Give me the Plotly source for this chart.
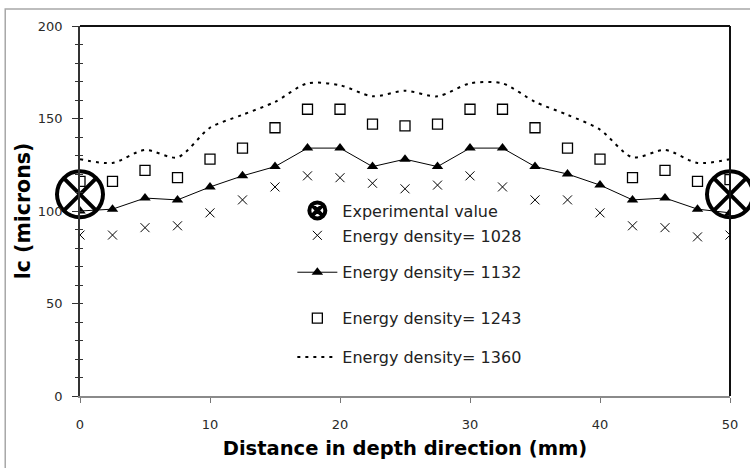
import plotly.graph_objects as go

# ---- data ----
distance = [0, 2.5, 5, 7.5, 10, 12.5, 15, 17.5, 20, 22.5, 25, 27.5, 30, 32.5, 35, 37.5, 40, 42.5, 45, 47.5, 50]
ed_1028 = [87, 87, 91, 92, 99, 106, 113, 119, 118, 115, 112, 114, 119, 113, 106, 106, 99, 92, 91, 86, 87]
ed_1132 = [100, 101, 107, 106, 113, 119, 124, 134, 134, 124, 128, 124, 134, 134, 124, 120, 114, 106, 107, 101, 99]
ed_1243 = [116, 116, 122, 118, 128, 134, 145, 155, 155, 147, 146, 147, 155, 155, 145, 134, 128, 118, 122, 116, 117]
ed_1360 = [128, 126, 133, 129, 145, 152, 159, 169, 168, 162, 165, 162, 169, 169, 159, 152, 144, 129, 133, 126, 128]
exp_x = [0, 50]
exp_y = [109, 109]

x_ticks = [0, 10, 20, 30, 40, 50]
y_ticks = [0, 50, 100, 150, 200]

names = ["Experimental value", "Energy density= 1028", "Energy density= 1132",
         "Energy density= 1243", "Energy density= 1360"]

# ---- layout geometry (pixels) ----
W, H = 750, 468
L, R, T, B = 80, 732, 26, 397


def px2paper_x(px):
    return (px - L) / (R - L)


def px2paper_y(py):
    return (B - py) / (B - T)


legend_font = dict(family="DejaVu Sans", size=16, color="#222222")
tick_font = dict(family="DejaVu Sans", size=13, color="#2a2a2a")

fig = go.Figure()

fig.add_trace(go.Scatter(
    x=distance, y=ed_1360, name=names[4], mode="lines",
    line=dict(color="black", width=2, dash="3px,5px", shape="spline", smoothing=0.8),
    legend="legend5"))
fig.add_trace(go.Scatter(
    x=distance, y=ed_1243, name=names[3], mode="markers",
    marker=dict(symbol="square-open", size=10, color="black", line=dict(width=1.3)),
    legend="legend4"))
fig.add_trace(go.Scatter(
    x=distance, y=ed_1132, name=names[2], mode="lines+markers",
    line=dict(color="black", width=1),
    marker=dict(symbol="triangle-up", size=10, color="black"),
    legend="legend3"))
fig.add_trace(go.Scatter(
    x=distance, y=ed_1028, name=names[1], mode="markers",
    marker=dict(symbol="x-thin-open", size=9, color="black", line=dict(width=1, color="black")),
    legend="legend2"))
fig.add_trace(go.Scatter(
    x=exp_x, y=exp_y, name=names[0], mode="markers",
    marker=dict(symbol="circle-x-open", size=46, color="black", line=dict(width=4, color="black")),
    legend="legend", cliponaxis=False))

legend_rows = [211, 236, 273, 319, 358]
leg_x = px2paper_x(293)
legend_common = dict(x=leg_x, xanchor="left", yanchor="middle", bgcolor="rgba(0,0,0,0)",
                     borderwidth=0, font=legend_font, itemwidth=40)
fig.update_layout(
    legend=dict(y=px2paper_y(legend_rows[0]), **legend_common),
    legend2=dict(y=px2paper_y(legend_rows[1]), **legend_common),
    legend3=dict(y=px2paper_y(legend_rows[2]), **legend_common),
    legend4=dict(y=px2paper_y(legend_rows[3]), **legend_common),
    legend5=dict(y=px2paper_y(legend_rows[4]), **legend_common),
)

fig.update_layout(
    width=W, height=H,
    margin=dict(l=L, r=W - R, t=T, b=H - B, pad=0),
    paper_bgcolor="white", plot_bgcolor="white",
    showlegend=True,
    xaxis=dict(
        range=[0, 50], tickvals=x_ticks, ticks="outside", ticklen=5, tickcolor="#777777",
        showline=True, linecolor="#8a8a8a", linewidth=1.5, showgrid=False, zeroline=False,
        tickfont=tick_font, ticklabelstandoff=11,
        title=dict(text="Distance in depth direction (mm)", standoff=10,
                   font=dict(family="DejaVu Sans", size=19.5, color="black", weight="bold")),
    ),
    yaxis=dict(
        range=[0, 200], tickvals=y_ticks, ticks="outside", ticklen=6, tickcolor="#333333",
        minor=dict(dtick=10, ticks="outside", ticklen=3, tickcolor="#333333"),
        showline=True, linecolor="#333333", linewidth=1.5, showgrid=False, zeroline=False,
        tickfont=tick_font, ticklabelstandoff=7,
        title=dict(text="lc (microns)", standoff=2,
                   font=dict(family="DejaVu Sans", size=20.5, color="black", weight="bold")),
    ),
    yaxis2=dict(
        range=[0, 200], overlaying="y", side="left", anchor="x", dtick=10, ticks="inside",
        ticklen=3, tickcolor="#333333", showticklabels=False, showgrid=False, zeroline=False,
        showline=False,
    ),
)

# plot-area frame (top and right) and outer chart border
fig.add_shape(type="line", xref="paper", yref="paper", x0=0, x1=1, y0=1, y1=1,
              line=dict(color="#111111", width=2))
fig.add_shape(type="line", xref="paper", yref="paper", x0=1, x1=1, y0=0, y1=1,
              line=dict(color="#111111", width=2))
fig.add_shape(type="rect", xref="paper", yref="paper",
              x0=px2paper_x(5), x1=px2paper_x(780), y0=px2paper_y(500), y1=px2paper_y(9),
              line=dict(color="#a8a8a8", width=1.5))

# dummy trace to activate yaxis2 (no visible content)
fig.add_trace(go.Scatter(x=[None], y=[None], yaxis="y2", showlegend=False, hoverinfo="skip"))

fig.write_html("out.html")
